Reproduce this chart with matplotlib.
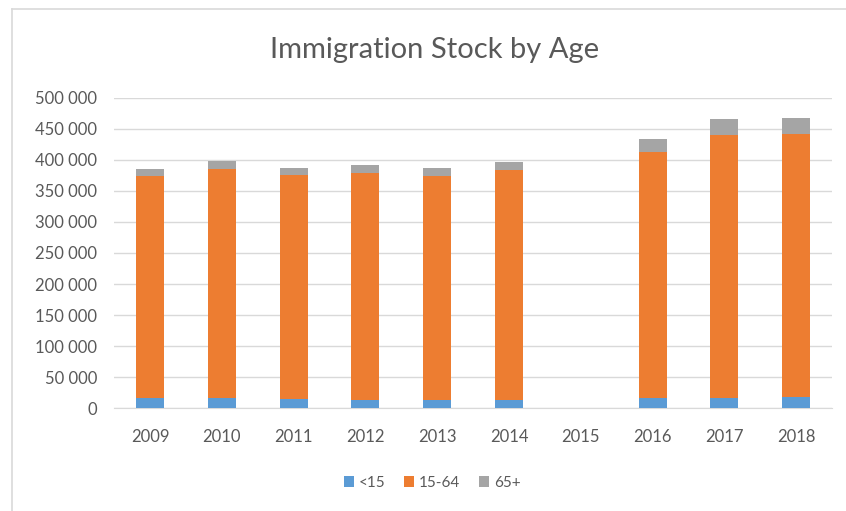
import numpy as np
import matplotlib.pyplot as plt
from matplotlib.lines import Line2D
from matplotlib.ticker import FuncFormatter

years = ['2009', '2010', '2011', '2012', '2013', '2014', '2015', '2016', '2017', '2018']
under15 = [16000, 16000, 15000, 13000, 14000, 14000, 0, 17000, 17000, 18000]
age15_64 = [358000, 370000, 360000, 365000, 360000, 370000, 0, 396000, 423000, 423000]
over65 = [11000, 11500, 12000, 13000, 13000, 13000, 0, 20000, 26000, 27000]

plt.rcParams['font.family'] = ['Lato', 'DejaVu Sans']
text_col = '#595959'


def main():
    fig = plt.figure(figsize=(8.46, 5.11), dpi=100)
    ax = fig.add_axes([0.1348, 0.201, 0.8487, 0.6078])

    x = np.arange(len(years))
    w = 0.39
    b1 = np.array(under15)
    b2 = b1 + np.array(age15_64)
    ax.bar(x, under15, w, color='#5B9BD5', label='<15', zorder=3)
    ax.bar(x, age15_64, w, bottom=b1, color='#ED7D31', label='15-64', zorder=3)
    ax.bar(x, over65, w, bottom=b2, color='#A5A5A5', label='65+', zorder=3)

    ax.set_xlim(-0.5, len(years) - 0.5)
    ax.set_ylim(0, 500000)
    ax.set_yticks(np.arange(0, 500001, 50000))
    ax.yaxis.set_major_formatter(FuncFormatter(lambda v, p: f'{int(v):,}'.replace(',', ' ')))
    ax.set_xticks(x)
    ax.set_xticklabels(years)
    ax.grid(axis='y', color='#D9D9D9', linewidth=1, zorder=0)
    for s in ['top', 'right', 'left']:
        ax.spines[s].set_visible(False)
    ax.spines['bottom'].set_color('#D9D9D9')
    ax.tick_params(length=0, labelsize=12, labelcolor=text_col)
    ax.tick_params(axis='y', pad=12)
    ax.tick_params(axis='x', pad=15)

    fig.text(435 / 846, 1 - 50 / 511, 'Immigration Stock by Age', ha='center', va='center',
             fontsize=21, color=text_col)

    fig.legend(loc='center', bbox_to_anchor=(432 / 846, 1 - 483 / 511), ncol=3, frameon=False,
               fontsize=11, labelcolor=text_col, handlelength=0.7, handleheight=0.7,
               handletextpad=0.3, columnspacing=1.2)

    # chart border, top and left edges
    bx, by = 11.5 / 846, 1 - 9.5 / 511
    fig.add_artist(Line2D([bx, 1], [by, by], transform=fig.transFigure, color='#D9D9D9', lw=1.2))
    fig.add_artist(Line2D([bx, bx], [0, by], transform=fig.transFigure, color='#D9D9D9', lw=1.2))

    fig.savefig('out.png', dpi=100)


if __name__ == '__main__':
    main()
